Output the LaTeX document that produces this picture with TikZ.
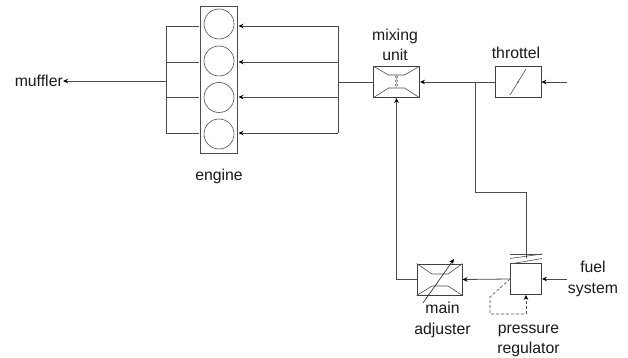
\documentclass[tikz,border=0pt]{standalone}
\usepackage{fontspec}
\setmainfont{Liberation Sans}
\usetikzlibrary{arrows.meta}
\tikzset{
 wire/.style={draw=black!70,line width=0.8pt},
 flow/.style={wire,-{Stealth[length=5pt,width=4.5pt,black]}},
 device/.style={draw=black!75,line width=0.9pt,fill=white,minimum width=46pt,minimum height=31pt,inner sep=0pt},
 cyl/.style={circle,draw=black!70,line width=0.6pt,minimum size=30pt,inner sep=0pt},
 lbl/.style={font=\fontsize{15.8}{20.5}\selectfont,align=center,inner sep=0pt,text=black!90},
 thin/.style={draw=black!70,line width=0.6pt},
 dashline/.style={draw=black!70,line width=0.6pt,dash pattern=on 3pt off 2pt}
}
\begin{document}
\begin{tikzpicture}[x=1pt,y=-1pt]
\useasboundingbox (0,0) rectangle (628,358);
\node[draw=black!70,line width=0.8pt,minimum width=37pt,minimum height=147pt,inner sep=0pt] (eng) at (218.5,79.5) {};
\node[cyl] (c1) at (219,24) {};
\node[cyl] (c2) at (219,61) {};
\node[cyl] (c3) at (219,97.5) {};
\node[cyl] (c4) at (219,134) {};
\node[lbl] (englabel) at (219,176) {engine};
\node[lbl,anchor=east] (muffler) at (63,81) {muffler};
\node[device] (mix) at (396.5,82) {};
\node[device] (thr) at (518,82) {};
\node[device,minimum width=45pt] (adj) at (439.5,279.5) {};
\node[device,minimum width=31pt] (reg) at (526,279) {};
\node[lbl] (mixlabel) at (395,45) {mixing\\unit};
\node[lbl] (thrlabel) at (516,53) {throttel};
\node[lbl] (adjlabel) at (442.5,320) {main\\adjuster};
\node[lbl] (reglabel) at (528.5,341) {pressure\\regulator};
\node[lbl] (fuel) at (593,279) {fuel\\system};
% exhaust
\coordinate (jl) at (166,81);
\coordinate (jr) at (338,82);
\draw[flow] (jl) -- (muffler.east);
\draw[wire] (166,26) -- (166,133);
\foreach \y in {26,62,97,133}{\draw[wire] (166,\y) -- (199,\y);}
\draw[wire] (338,26) -- (338,133);
\foreach \y in {26,62,97,133}{\draw[flow] (338,\y) -- (238.5,\y);}
\draw[wire] (jr) -- (mix.west);
% main line
\coordinate (thrin) at (567,82);
\draw[flow] (thrin) -- (thr.east);
\draw[flow] (thr.west) -- (mix.east);
\coordinate (br) at (475,82);
\coordinate (brb) at (475,192);
\coordinate (brc) at (526,192);
\coordinate (brd) at (526,258);
\draw[wire] (br) -- (brb) -- (brc) -- (brd);
% mixing internals
\draw[thin] (mix.north west) -- (388.5,75) -- (404.5,75) -- (mix.north east);
\draw[thin] (mix.south west) -- (388.5,88) -- (404.5,88) -- (mix.south east);
\foreach \y in {77,81,85}{\draw[black!70,line width=0.4pt] (396.5,\y) circle (1.3);}
% throttle internals
\draw[thin] (510,95) -- (526,69);
\fill[black!70] (518,82) circle (0.9);
% adjuster
\draw[thin] (adj.north west) -- (432,274) -- (448,274) -- (adj.north east);
\draw[thin] (adj.south west) -- (432,286) -- (448,286) -- (adj.south east);
\draw[black!80,line width=0.7pt,-{Stealth[length=5pt,width=4.5pt,black]}] (423,303) -- (454,259);
% regulator
\draw[flow] (reg.west) -- (adj.east);
\coordinate (fuelin) at (567,279);
\draw[flow] (fuelin) -- (reg.east);
\draw[flow] (adj.west) -| (mix.south);
% spring
\draw[thin] (510,254) -- (542,254);
\draw[thin] (510,258.5) -- (542,254);
\draw[thin] (510,264) -- (542,258.5);
% feedback
\coordinate (fa) at (490,297);
\coordinate (fb) at (490,314);
\coordinate (fc) at (526,314);
\draw[dashline] (reg.west) -- (fa) -- (fb) -- (fc);
\draw[dashline,-{Stealth[length=5pt,width=4.5pt,black]}] (fc) -- (reg.south);
\end{tikzpicture}
\end{document}
